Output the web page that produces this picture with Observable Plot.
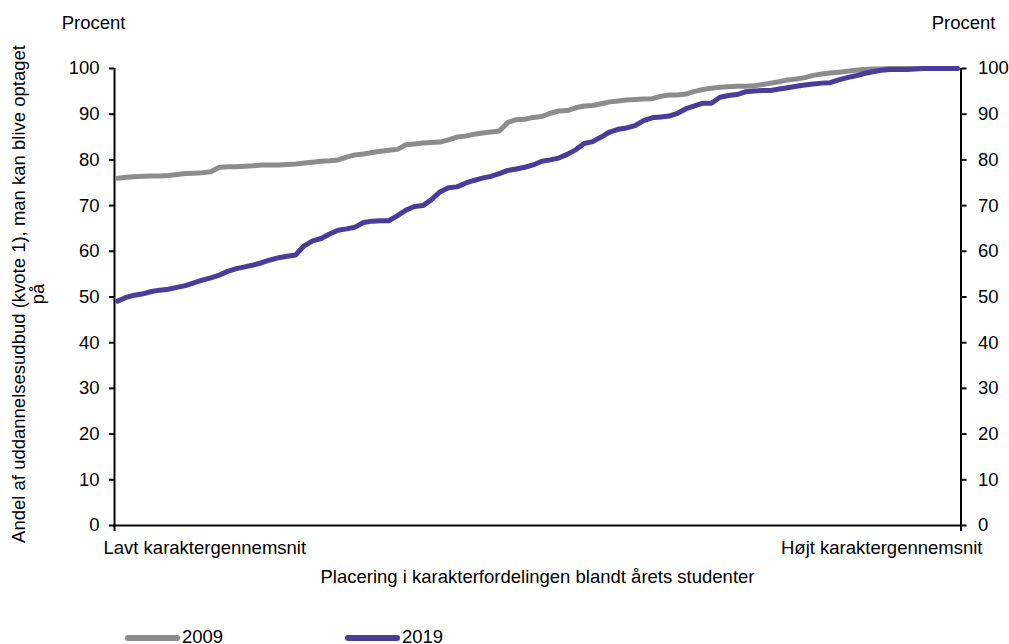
<!DOCTYPE html>
<html>
<head>
<meta charset="utf-8">
<script src="https://cdn.jsdelivr.net/npm/d3@7"></script>
<script src="https://cdn.jsdelivr.net/npm/@observablehq/plot@0.6"></script>
<style>
  body { margin: 0; background: #fff; font-family: "Liberation Sans", Arial, sans-serif; }
  #wrap { position: relative; width: 1009px; height: 644px; overflow: hidden; }
  .sw { position: absolute; height: 6px; border-radius: 3px; }
  .lb { position: absolute; font-size: 18.5px; line-height: 21px; color: #000; }
</style>
</head>
<body>
<div id="wrap"></div>
<script>
// Series (share of programmes, percent) by position in grade distribution (1 = lowest .. 100 = highest)
const series2009 = [
  76.0, 76.2, 76.3, 76.4, 76.5, 76.5, 76.6, 76.8, 77.0, 77.1,
  77.2, 77.4, 78.4, 78.5, 78.5, 78.6, 78.7, 78.9, 78.9, 78.9,
  79.0, 79.1, 79.3, 79.5, 79.7, 79.8, 80.0, 80.6, 81.1, 81.3,
  81.6, 81.9, 82.1, 82.3, 83.3, 83.5, 83.7, 83.8, 83.9, 84.4,
  85.0, 85.2, 85.6, 85.9, 86.1, 86.3, 88.2, 88.8, 88.9, 89.3,
  89.5, 90.2, 90.7, 90.8, 91.4, 91.8, 91.9, 92.3, 92.7, 92.9,
  93.1, 93.2, 93.3, 93.4, 93.9, 94.2, 94.2, 94.4, 95.0, 95.4,
  95.7, 95.9, 96.0, 96.1, 96.1, 96.2, 96.5, 96.8, 97.1, 97.5,
  97.7, 98.0, 98.5, 98.8, 99.0, 99.2, 99.4, 99.6, 99.8, 99.9,
  99.9, 100, 100, 100, 100, 100, 100, 100, 100, 100
];
const series2019 = [
  49.1, 49.9, 50.4, 50.7, 51.2, 51.5, 51.7, 52.1, 52.5, 53.1,
  53.7, 54.2, 54.8, 55.6, 56.2, 56.6, 57.0, 57.5, 58.1, 58.6,
  58.9, 59.2, 61.2, 62.3, 62.8, 63.8, 64.6, 64.9, 65.3, 66.3,
  66.6, 66.7, 66.7, 67.8, 69.0, 69.8, 70.0, 71.3, 73.0, 73.9,
  74.1, 74.9, 75.5, 76.0, 76.4, 77.0, 77.7, 78.0, 78.4, 78.9,
  79.7, 80.0, 80.4, 81.2, 82.2, 83.6, 84.0, 85.0, 86.1, 86.7,
  87.0, 87.5, 88.6, 89.2, 89.4, 89.6, 90.2, 91.2, 91.8, 92.4,
  92.4, 93.7, 94.1, 94.3, 94.9, 95.1, 95.2, 95.2, 95.5, 95.8,
  96.1, 96.4, 96.6, 96.8, 96.9, 97.5, 98.0, 98.4, 98.9, 99.3,
  99.6, 99.8, 99.8, 99.8, 99.9, 100, 100, 100, 100, 100
];
const seriesNames = ["2009", "2019"];
const seriesColors = ["#8c8c8c", "#4b3b9b"];
const yTicks = [0, 10, 20, 30, 40, 50, 60, 70, 80, 90, 100];
const xTickLabels = ["Lavt karaktergennemsnit", "Højt karaktergennemsnit"];
const xTitle = "Placering i karakterfordelingen blandt årets studenter";
const yTitle = "Andel af uddannelsesudbud (kvote 1), man kan blive optaget\npå";
const unitLabel = "Procent";

const rows = [];
[series2009, series2019].forEach((arr, s) => {
  arr.forEach((v, i) => rows.push({ pos: i + 1, value: v, series: seriesNames[s] }));
});

const FS = 18.5;
const chart = Plot.plot({
  width: 1009,
  height: 600,
  marginLeft: 117,
  marginRight: 52,
  marginTop: 68,
  marginBottom: 75,
  x: { domain: [1, 100], axis: null },
  y: { domain: [0, 100], axis: null },
  color: { domain: seriesNames, range: seriesColors },
  style: { fontFamily: "'Liberation Sans', Arial, sans-serif", fontSize: FS + "px", color: "#000", background: "#fff" },
  marks: [
    Plot.axisY({ anchor: "left", ticks: yTicks, tickSize: 5, tickPadding: 10, label: null, dx: -3, strokeWidth: 2, fontSize: FS }),
    Plot.axisY({ anchor: "right", ticks: yTicks, tickSize: 5, tickPadding: 12, label: null, dx: 3.5, strokeWidth: 2, fontSize: FS }),
    Plot.axisX({ ticks: [1], tickSize: 6, tickFormat: () => "", label: null, dx: -3, strokeWidth: 2 }),
    Plot.axisX({ ticks: [100], tickSize: 6, tickFormat: () => "", label: null, dx: 3.5, strokeWidth: 2 }),
    Plot.ruleX([1], { stroke: "#000", strokeWidth: 2, dx: -3 }),
    Plot.ruleX([100], { stroke: "#000", strokeWidth: 2, dx: 3.5 }),
    Plot.ruleY([0], { stroke: "#000", strokeWidth: 2, insetLeft: -4, insetRight: -4.5 }),
    Plot.line(rows, { x: "pos", y: "value", z: "series", stroke: "series", strokeWidth: 5, strokeLinejoin: "round" }),
    Plot.text([xTickLabels[0]], { x: () => 1, y: () => 0, text: d => d, textAnchor: "start", lineAnchor: "middle", dx: -14, dy: 23, fontSize: FS, fill: "#000" }),
    Plot.text([xTickLabels[1]], { x: () => 100, y: () => 0, text: d => d, textAnchor: "end", lineAnchor: "middle", dx: 25, dy: 23, fontSize: FS, fill: "#000" }),
    Plot.text([xTitle], { frameAnchor: "bottom", text: d => d, textAnchor: "middle", lineAnchor: "middle", dy: 52, fontSize: FS, fill: "#000" }),
    Plot.text([unitLabel], { frameAnchor: "top-left", text: d => d, textAnchor: "middle", lineAnchor: "middle", dx: -24, dy: -45, fontSize: FS, fill: "#000" }),
    Plot.text([unitLabel], { frameAnchor: "top-right", text: d => d, textAnchor: "middle", lineAnchor: "middle", dx: 6, dy: -45, fontSize: FS, fill: "#000" }),
    Plot.text([yTitle], { frameAnchor: "left", text: d => d, rotate: -90, textAnchor: "middle", lineAnchor: "middle", lineHeight: 1.0, dx: -89, dy: -3, fontSize: FS, fill: "#000" })
  ]
});

const wrap = document.getElementById("wrap");
wrap.appendChild(chart);

// Legend below the SVG
const legendX = [125, 345];
seriesNames.forEach((name, i) => {
  const sw = document.createElement("div");
  sw.className = "sw";
  sw.style.left = legendX[i] + "px";
  sw.style.top = "635px";
  sw.style.width = "55px";
  sw.style.background = seriesColors[i];
  wrap.appendChild(sw);
  const lb = document.createElement("div");
  lb.className = "lb";
  lb.style.left = (legendX[i] + 57) + "px";
  lb.style.top = "626px";
  lb.textContent = name;
  wrap.appendChild(lb);
});
</script>
</body>
</html>
